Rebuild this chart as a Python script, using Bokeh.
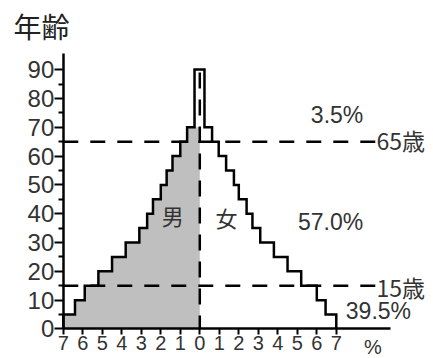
from bokeh.plotting import figure
from bokeh.models import Range1d, FixedTicker, LinearAxis, Label
from bokeh.embed import file_html
from bokeh.resources import INLINE

# ---- data (percent of population per age class) ----
age_lo = [0, 5, 10, 15, 20, 25, 30, 35, 40, 45, 50, 55, 60, 65, 70]
age_hi = [5, 10, 15, 20, 25, 30, 35, 40, 45, 50, 55, 60, 65, 70, 90]
male = [7.0, 6.4, 5.9, 5.2, 4.5, 3.8, 3.1, 2.7, 2.4, 2.0, 1.7, 1.4, 1.0, 0.65, 0.27]
female = [7.0, 6.45, 6.0, 5.2, 4.5, 3.8, 3.1, 2.7, 2.4, 2.0, 1.75, 1.35, 0.97, 0.63, 0.24]

boundary_ages = [65, 15]
boundary_labels = ["65歳", "15歳"]
boundary_label_y = [65.6, 14.5]
share_labels = ["3.5%", "57.0%", "39.5%"]
share_pos_x = [7.04, 6.71, 9.16]
share_pos_y = [74.1, 36.95, 6.1]

y_ticks = [0, 10, 20, 30, 40, 50, 60, 70, 80, 90]
y_minor = [5, 15, 25, 35, 45, 55, 65, 75, 85]
x_ticks = [-7, -6, -5, -4, -3, -2, -1, 0, 1, 2, 3, 4, 5, 6, 7]
x_tick_labels = {t: str(abs(t)) for t in x_ticks}

CJK = "Noto Sans CJK JP"
NUM = "Liberation Sans"
TXT = "#333333"

x_axis_end = 9.78
y_axis_end = 95.7
p = figure(width=433, height=358,
           x_range=Range1d(-10.22, 11.985), y_range=Range1d(-10.24, 113.98),
           x_axis_location=None, y_axis_location=None,
           toolbar_location=None, output_backend="svg",
           min_border_left=0, min_border_right=0,
           min_border_top=0, min_border_bottom=0)
p.outline_line_color = None
p.xgrid.visible = False
p.ygrid.visible = False
p.background_fill_color = "white"

# ---- y axis (at x = -7) ----
ya = LinearAxis(fixed_location=-7, ticker=FixedTicker(ticks=y_ticks, minor_ticks=y_minor))
ya.bounds = (0, y_axis_end)
ya.axis_line_width = 2.5
ya.major_tick_line_width = 2
ya.minor_tick_line_width = 2
ya.major_tick_out = 9
ya.major_tick_in = 0
ya.minor_tick_out = 5
ya.minor_tick_in = 0
ya.major_label_standoff = 0
ya.major_label_text_font = NUM
ya.major_label_text_font_size = "24px"
ya.major_label_text_color = TXT
p.add_layout(ya, "left")

# ---- x axis (at age 0) ----
xa = LinearAxis(fixed_location=0, ticker=FixedTicker(ticks=x_ticks, minor_ticks=[]),
                major_label_overrides=x_tick_labels)
xa.bounds = (-7, x_axis_end)
xa.axis_line_width = 2.5
xa.major_tick_line_width = 2
xa.major_tick_out = 6
xa.major_tick_in = 0
xa.minor_tick_out = 0
xa.minor_tick_in = 0
xa.major_label_standoff = 1
xa.major_label_text_font = NUM
xa.major_label_text_font_size = "20px"
xa.major_label_text_color = TXT
p.add_layout(xa, "below")

# "%" unit under the axis
xu = LinearAxis(fixed_location=0, ticker=FixedTicker(ticks=[8.88], minor_ticks=[]),
                major_label_overrides={8.88: "%"})
xu.axis_line_color = None
xu.major_tick_line_color = None
xu.minor_tick_line_color = None
xu.major_tick_out = 6
xu.major_tick_in = 0
xu.major_label_standoff = 1
xu.major_label_text_font = NUM
xu.major_label_text_font_size = "20px"
xu.major_label_text_color = TXT
p.add_layout(xu, "below")

# ---- male fill (grey, except the top open class) ----
fx, fy = [], []
for lo, hi, m in zip(age_lo[:-1], age_hi[:-1], male[:-1]):
    fx += [-m, -m]
    fy += [lo, hi]
fx += [0, 0]
fy += [age_hi[-2], 0]
p.patch(fx, fy, fill_color="#bfbfbf", line_color=None)

# ---- outline of the pyramid ----
ox, oy = [], []
for lo, hi, m in zip(age_lo, age_hi, male):
    ox += [-m, -m]
    oy += [lo, hi]
for lo, hi, f in reversed(list(zip(age_lo, age_hi, female))):
    ox += [f, f]
    oy += [hi, lo]
p.line(ox, oy, line_color="black", line_width=2.5, line_join="miter")

# ---- dashed boundaries ----
p.segment(x0=[-7] * len(boundary_ages), y0=boundary_ages,
          x1=[9.0] * len(boundary_ages), y1=boundary_ages,
          line_color="black", line_width=2.5, line_dash="15 12")
p.segment(x0=[0], y0=[age_hi[-1] - 1], x1=[0], y1=[0],
          line_color="black", line_width=2.5, line_dash="16 11")

# ---- texts ----
for t, yv in zip(boundary_labels, boundary_label_y):
    p.add_layout(Label(x=9.06, y=yv, text=t, text_font=CJK, text_font_size="23px",
                       text_color=TXT, text_align="left", text_baseline="middle"))
for t, xv, yv in zip(share_labels, share_pos_x, share_pos_y):
    p.add_layout(Label(x=xv, y=yv, text=t, text_font=NUM, text_font_size="23px",
                       text_color=TXT, text_align="center", text_baseline="middle"))
p.add_layout(Label(x=-1.39, y=39.4, text="男", text_font=CJK, text_font_size="22px",
                   text_color=TXT, text_align="center", text_baseline="middle"))
p.add_layout(Label(x=1.37, y=38.8, text="女", text_font=CJK, text_font_size="22px",
                   text_color=TXT, text_align="center", text_baseline="middle"))
p.add_layout(Label(x=-9.55, y=105.3, text="年齢", text_font=CJK, text_font_size="28px",
                   text_color="#222222", text_align="left", text_baseline="middle"))

open("out.html", "w").write(file_html(p, INLINE))
